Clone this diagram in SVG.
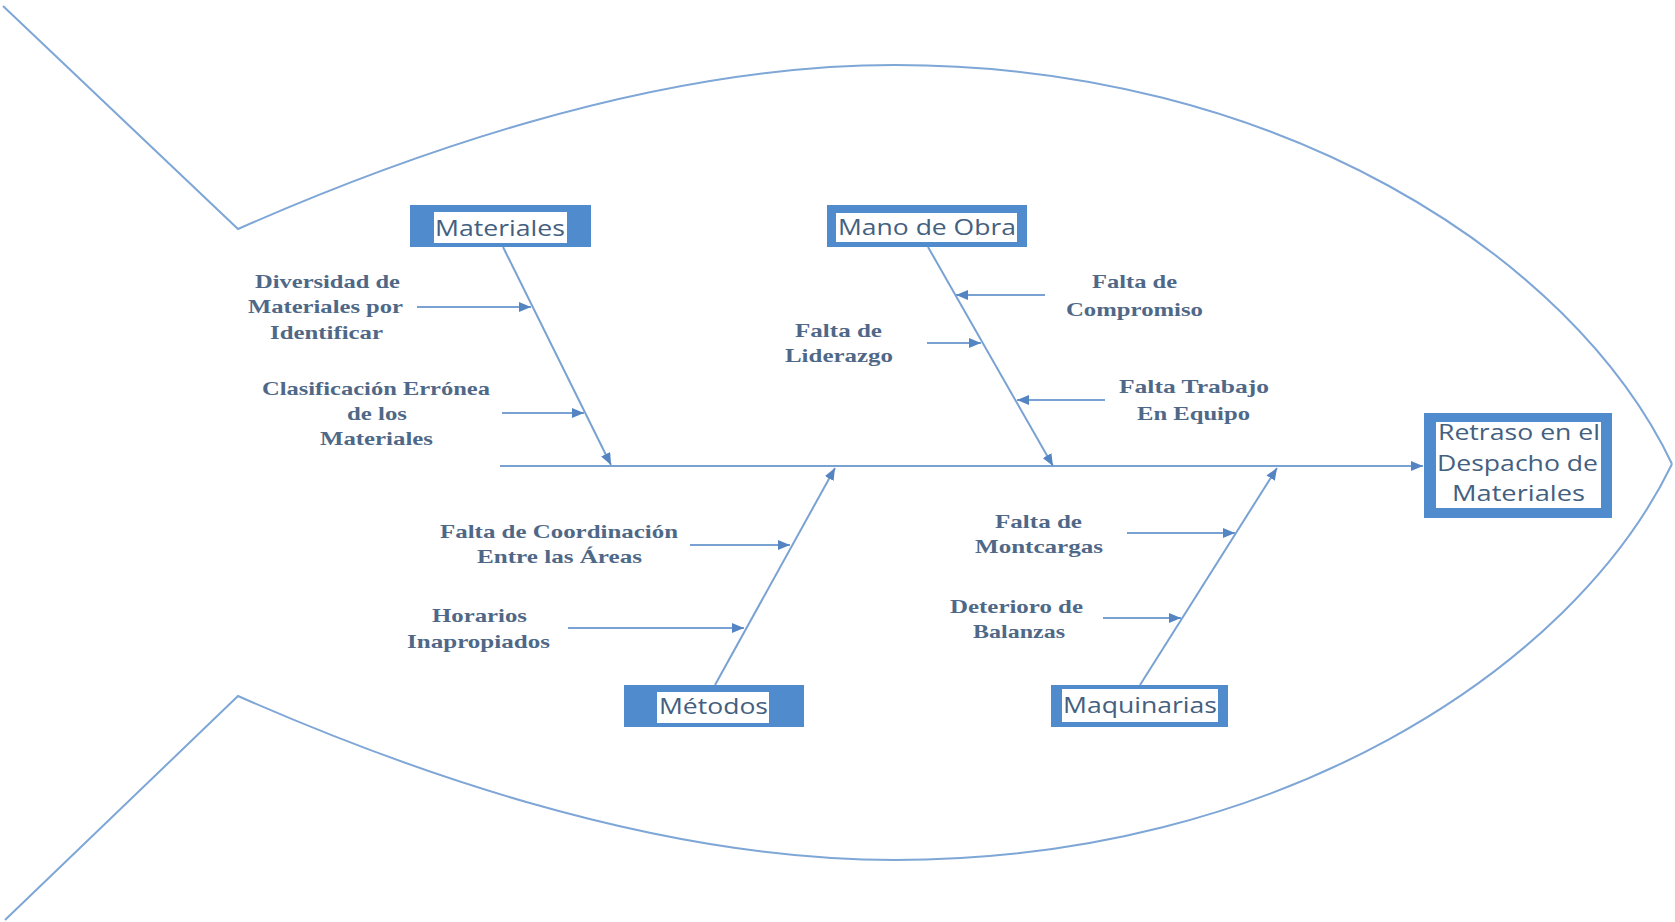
<svg xmlns="http://www.w3.org/2000/svg" width="1675" height="922" viewBox="0 0 1675 922">
<defs>
<marker id="ah" markerUnits="userSpaceOnUse" markerWidth="14" markerHeight="10" refX="12" refY="5" orient="auto">
<path d="M0,0 L12,5 L0,10 Z" fill="#5485c2"/>
</marker>
<style>
.outline{fill:none;stroke:#7ea6d6;stroke-width:2}
.ln{fill:none;stroke:#79a2d3;stroke-width:2;marker-end:url(#ah)}
.box{fill:#4f8bcd}
.inner{fill:#ffffff}
.bl{font-family:"Open Sans","Liberation Sans",sans-serif;font-size:21px;fill:#44607f;text-anchor:start}
.sl{font-family:"Liberation Serif",serif;font-weight:bold;font-size:19px;fill:#4f6887;text-anchor:start}
</style>
</defs>
<rect width="1675" height="922" fill="#ffffff"/>
<g id="fish-outline">
<path class="outline" d="M3,6 L238,229 C388,163 645,65 895,65 C1275,65 1572,254 1672,464"/>
<path class="outline" d="M5,920 L238,696 C388,762 645,860 895,860 C1275,860 1572,671 1672,464"/>
</g>
<g id="connectors">
<line class="ln" x1="500" y1="466" x2="1423" y2="466"/>
<line class="ln" x1="503" y1="247" x2="611" y2="465"/>
<line class="ln" x1="928" y1="247" x2="1053" y2="466"/>
<line class="ln" x1="715" y1="685" x2="835" y2="468"/>
<line class="ln" x1="1140" y1="685" x2="1277" y2="468"/>
<line class="ln" x1="417" y1="307" x2="531" y2="307"/>
<line class="ln" x1="502" y1="413" x2="584" y2="413"/>
<line class="ln" x1="1045" y1="295" x2="956" y2="295"/>
<line class="ln" x1="927" y1="343" x2="981" y2="343"/>
<line class="ln" x1="1105" y1="400" x2="1017" y2="400"/>
<line class="ln" x1="690" y1="545" x2="790" y2="545"/>
<line class="ln" x1="568" y1="628" x2="744" y2="628"/>
<line class="ln" x1="1127" y1="533" x2="1235" y2="533"/>
<line class="ln" x1="1103" y1="618" x2="1181" y2="618"/>
</g>
<g id="effect">
<rect class="box" x="1424" y="413" width="188" height="105"/>
<rect class="inner" x="1436" y="422" width="165" height="86"/>
<text class="bl" x="1438" y="440" textLength="162" lengthAdjust="spacingAndGlyphs">Retraso en el</text>
<text class="bl" x="1437" y="471" textLength="161" lengthAdjust="spacingAndGlyphs">Despacho de</text>
<text class="bl" x="1452" y="501" textLength="133" lengthAdjust="spacingAndGlyphs">Materiales</text>
</g>
<g id="materiales">
<rect class="box" x="410" y="205" width="181" height="42"/>
<rect class="inner" x="434" y="212" width="133" height="31"/>
<text class="bl" x="435" y="236" textLength="130" lengthAdjust="spacingAndGlyphs">Materiales</text>
</g>
<g id="mano-de-obra">
<rect class="box" x="827" y="205" width="200" height="42"/>
<rect class="inner" x="836" y="213" width="181" height="29"/>
<text class="bl" x="838" y="235" textLength="178" lengthAdjust="spacingAndGlyphs">Mano de Obra</text>
</g>
<g id="metodos">
<rect class="box" x="624" y="685" width="180" height="42"/>
<rect class="inner" x="657" y="692" width="112" height="31"/>
<text class="bl" x="659" y="714" textLength="109" lengthAdjust="spacingAndGlyphs">Métodos</text>
</g>
<g id="maquinarias">
<rect class="box" x="1051" y="685" width="177" height="42"/>
<rect class="inner" x="1062" y="689" width="156" height="33"/>
<text class="bl" x="1063" y="713" textLength="154" lengthAdjust="spacingAndGlyphs">Maquinarias</text>
</g>
<g id="cause-diversidad">
<text class="sl" x="255" y="288" textLength="145" lengthAdjust="spacingAndGlyphs">Diversidad de</text>
<text class="sl" x="248" y="313" textLength="155" lengthAdjust="spacingAndGlyphs">Materiales por</text>
<text class="sl" x="270" y="339" textLength="113" lengthAdjust="spacingAndGlyphs">Identificar</text>
</g>
<g id="cause-clasificacion">
<text class="sl" x="262" y="395" textLength="228" lengthAdjust="spacingAndGlyphs">Clasificación Errónea</text>
<text class="sl" x="347" y="420" textLength="60" lengthAdjust="spacingAndGlyphs">de los</text>
<text class="sl" x="320" y="445" textLength="113" lengthAdjust="spacingAndGlyphs">Materiales</text>
</g>
<g id="cause-compromiso">
<text class="sl" x="1092" y="288" textLength="85" lengthAdjust="spacingAndGlyphs">Falta de</text>
<text class="sl" x="1066" y="316" textLength="137" lengthAdjust="spacingAndGlyphs">Compromiso</text>
</g>
<g id="cause-liderazgo">
<text class="sl" x="795" y="337" textLength="87" lengthAdjust="spacingAndGlyphs">Falta de</text>
<text class="sl" x="785" y="362" textLength="108" lengthAdjust="spacingAndGlyphs">Liderazgo</text>
</g>
<g id="cause-trabajo">
<text class="sl" x="1119" y="393" textLength="150" lengthAdjust="spacingAndGlyphs">Falta Trabajo</text>
<text class="sl" x="1137" y="420" textLength="113" lengthAdjust="spacingAndGlyphs">En Equipo</text>
</g>
<g id="cause-coordinacion">
<text class="sl" x="440" y="538" textLength="238" lengthAdjust="spacingAndGlyphs">Falta de Coordinación</text>
<text class="sl" x="477" y="563" textLength="165" lengthAdjust="spacingAndGlyphs">Entre las Áreas</text>
</g>
<g id="cause-horarios">
<text class="sl" x="432" y="622" textLength="95" lengthAdjust="spacingAndGlyphs">Horarios</text>
<text class="sl" x="407" y="648" textLength="143" lengthAdjust="spacingAndGlyphs">Inapropiados</text>
</g>
<g id="cause-montcargas">
<text class="sl" x="995" y="528" textLength="87" lengthAdjust="spacingAndGlyphs">Falta de</text>
<text class="sl" x="975" y="553" textLength="128" lengthAdjust="spacingAndGlyphs">Montcargas</text>
</g>
<g id="cause-balanzas">
<text class="sl" x="950" y="613" textLength="133" lengthAdjust="spacingAndGlyphs">Deterioro de</text>
<text class="sl" x="973" y="638" textLength="92" lengthAdjust="spacingAndGlyphs">Balanzas</text>
</g>
</svg>
